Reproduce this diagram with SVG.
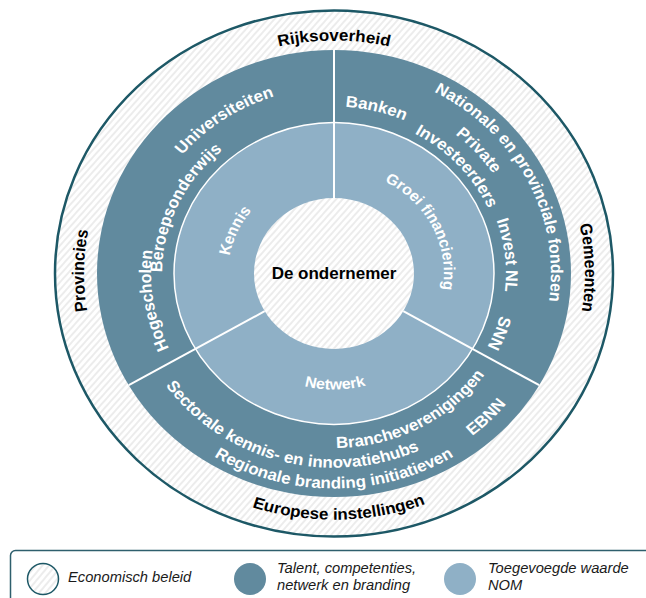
<svg xmlns="http://www.w3.org/2000/svg" width="646" height="598" viewBox="0 0 646 598">
<style>
.ol{font-family:"Liberation Sans",Arial,sans-serif;font-weight:bold;font-size:17px;fill:#000}
.dk{font-family:"Liberation Sans",Arial,sans-serif;font-weight:bold;font-size:17px;fill:#fff}
.lt{font-family:"Liberation Sans",Arial,sans-serif;font-weight:bold;font-size:16px;fill:#fff}
.ct{font-family:"Liberation Sans",Arial,sans-serif;font-weight:bold;font-size:17px;fill:#000}
.lg{font-family:"Liberation Sans",Arial,sans-serif;font-style:italic;font-size:14.7px;fill:#1a1a1a}
.dv{stroke:#fff;stroke-width:2;vector-effect:non-scaling-stroke}
</style>
<defs>
<pattern id="hatch" patternUnits="userSpaceOnUse" width="5" height="5" patternTransform="rotate(40)">
<rect width="5" height="5" fill="#fff"/>
<line x1="1" y1="0" x2="1" y2="5" stroke="#e8e8e8" stroke-width="1.6"/>
</pattern>
<path id="w247" d="M -123.5 213.9 A 247 247 0 1 1 123.5 213.9"/>
<path id="w250" d="M -125 216.5 A 250 250 0 1 1 125 216.5"/>
<path id="w251" d="M -125.5 217.4 A 251 251 0 1 1 125.5 217.4"/>
<path id="w197" d="M -98.5 170.6 A 197 197 0 1 1 98.5 170.6"/>
<path id="w172" d="M -86 149 A 172 172 0 1 1 86 149"/>
<path id="w183" d="M -91.5 158.5 A 183 183 0 1 1 91.5 158.5"/>
<path id="w177" d="M -88.5 153.3 A 177 177 0 1 1 88.5 153.3"/>
<path id="w217" d="M -108.5 187.9 A 217 217 0 1 1 108.5 187.9"/>
<path id="w191" d="M -95.5 165.4 A 191 191 0 1 1 95.5 165.4"/>
<path id="w169" d="M -84.5 146.4 A 169 169 0 1 1 84.5 146.4"/>
<path id="w106" d="M -53 91.8 A 106 106 0 1 1 53 91.8"/>
<path id="w110" d="M -55 95.3 A 110 110 0 1 1 55 95.3"/>
<path id="c261" d="M -130.5 -226 A 261 261 0 1 0 130.5 -226"/>
<path id="c206" d="M -103 -178.4 A 206 206 0 1 0 103 -178.4"/>
<path id="c228" d="M -114 -197.5 A 228 228 0 1 0 114 -197.5"/>
<path id="c185" d="M -92.5 -160.2 A 185 185 0 1 0 92.5 -160.2"/>
<path id="c221" d="M -110.5 -191.4 A 221 221 0 1 0 110.5 -191.4"/>
<path id="c123" d="M -61.5 -106.5 A 123 123 0 1 0 61.5 -106.5"/>
</defs>

<g transform="translate(334 273.5) scale(1 0.943)">
  <g id="economisch-beleid">
    <circle r="279" fill="url(#hatch)" stroke="#1d5866" stroke-width="2.5" vector-effect="non-scaling-stroke"/>
    <text class="ol"><textPath href="#w247" startOffset="50%" text-anchor="middle">Rijksoverheid</textPath></text>
    <text class="ol" transform="rotate(-89.3)"><textPath href="#w250" startOffset="50%" text-anchor="middle">Provincies</textPath></text>
    <text class="ol" transform="rotate(88.6)"><textPath href="#w251" startOffset="50%" text-anchor="middle">Gemeenten</textPath></text>
    <text class="ol" transform="rotate(-1.1)"><textPath href="#c261" startOffset="50%" text-anchor="middle">Europese instellingen</textPath></text>
  </g>
  <g id="talent-competenties">
    <circle r="237" fill="#618a9e"/>
    <text class="dk" transform="rotate(-34)"><textPath href="#w197" startOffset="50%" text-anchor="middle">Universiteiten</textPath></text>
    <text class="dk" transform="rotate(-65)"><textPath href="#w172" startOffset="50%" text-anchor="middle">Beroepsonderwijs</textPath></text>
    <text class="dk" transform="rotate(-99)"><textPath href="#w183" startOffset="50%" text-anchor="middle">Hogescholen</textPath></text>
    <text class="dk" transform="rotate(13.6)"><textPath href="#w177" startOffset="50%" text-anchor="middle">Banken</textPath></text>
    <text class="dk" transform="rotate(62.6)"><textPath href="#w217" startOffset="50%" text-anchor="middle">Nationale en provinciale fondsen</textPath></text>
    <text class="dk" transform="rotate(47.9)"><textPath href="#w191" startOffset="50%" text-anchor="middle">Private</textPath></text>
    <text class="dk" transform="rotate(47.2)"><textPath href="#w169" startOffset="50%" text-anchor="middle">Investeerders</textPath></text>
    <text class="dk" transform="rotate(83.6)"><textPath href="#w172" startOffset="50%" text-anchor="middle">Invest NL</textPath></text>
    <text class="dk" transform="rotate(111)"><textPath href="#w172" startOffset="50%" text-anchor="middle">SNN</textPath></text>
    <text class="dk" transform="rotate(15.1)"><textPath href="#c206" startOffset="50%" text-anchor="middle">Sectorale kennis- en innovatiehubs</textPath></text>
    <text class="dk"><textPath href="#c228" startOffset="50%" text-anchor="middle">Regionale branding initiatieven</textPath></text>
    <text class="dk" transform="rotate(-27.65)"><textPath href="#c185" startOffset="50%" text-anchor="middle">Brancheverenigingen</textPath></text>
    <text class="dk" transform="rotate(-45)"><textPath href="#c221" startOffset="50%" text-anchor="middle">EBNN</textPath></text>
  </g>
  <g id="toegevoegde-waarde">
    <circle r="160" fill="#8fb0c6" stroke="#fff" stroke-width="1.5" vector-effect="non-scaling-stroke"/>
    <text class="lt" transform="rotate(-65.4)"><textPath href="#w106" startOffset="50%" text-anchor="middle">Kennis</textPath></text>
    <text class="lt" transform="rotate(63.1)"><textPath href="#w110" startOffset="50%" text-anchor="middle">Groei financiering</textPath></text>
    <text class="lt" transform="rotate(-0.5)"><textPath href="#c123" startOffset="50%" text-anchor="middle">Netwerk</textPath></text>
  </g>
  <g id="connectors">
    <line class="dv" x1="0" y1="-80" x2="0" y2="-237"/>
    <line class="dv" x1="-69.3" y1="40" x2="-205.2" y2="118.5"/>
    <line class="dv" x1="69.3" y1="40" x2="205.2" y2="118.5"/>
  </g>
  <g id="ondernemer">
    <circle r="80" fill="url(#hatch)"/>
    <text class="ct" x="0" y="5.5" text-anchor="middle">De ondernemer</text>
  </g>
</g>

<g id="legend">
  <rect x="10.5" y="550.5" width="660" height="70" rx="5" fill="#fff" stroke="#2e5f6d" stroke-width="1.5"/>
  <circle cx="43" cy="579" r="15.5" fill="url(#hatch)" stroke="#1d5866" stroke-width="1.5"/>
  <circle cx="250" cy="579" r="16" fill="#618a9e"/>
  <circle cx="460" cy="579" r="16" fill="#8fb0c6"/>
  <text class="lg" x="68" y="582">Economisch beleid</text>
  <text class="lg" x="277" y="573">Talent, competenties,</text>
  <text class="lg" x="277" y="590">netwerk en branding</text>
  <text class="lg" x="488" y="573">Toegevoegde waarde</text>
  <text class="lg" x="488" y="590">NOM</text>
</g>
</svg>
